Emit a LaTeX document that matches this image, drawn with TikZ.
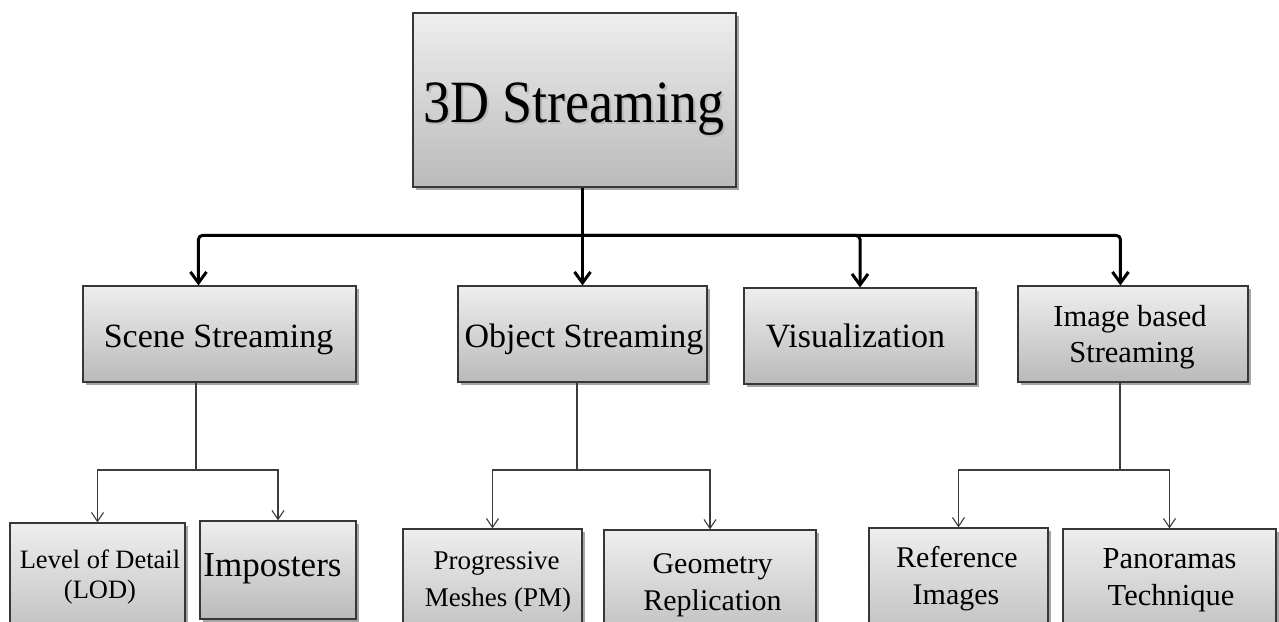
\documentclass[tikz,border=0pt]{standalone}
\usepackage{fontspec}
\setmainfont{Liberation Serif}
\usetikzlibrary{arrows.meta,shadows}
\definecolor{boxtop}{RGB}{238,238,238}
\definecolor{boxbot}{RGB}{186,186,186}
\definecolor{boxedge}{RGB}{55,55,55}
\definecolor{thinline}{RGB}{60,60,60}
\newcommand{\fs}[1]{\fontsize{#1}{#1}\selectfont}
% text with a soft grey shadow set behind it, down and to the right
\newcommand{\shadowed}[1]{\rlap{\hspace{2.5pt}\raisebox{-2.5pt}{\color{black!28}#1}}#1}

\begin{document}
\begin{tikzpicture}[x=1pt,y=-1pt,
  box/.style={draw=boxedge, line width=1.1pt, top color=boxtop, bottom color=boxbot,
    inner sep=0pt, drop shadow={shadow xshift=2.5pt, shadow yshift=-2.5pt, opacity=0.35, fill=black}},
  lbl/.style={anchor=base, inner sep=0pt, text=black},
  bigarrow/.style={draw=black, line width=3pt, line join=miter,
    -{Straight Barb[length=11pt,width=16pt]}},
  smallline/.style={draw=thinline, line width=1.1pt},
  smallarrow/.style={smallline, -{Straight Barb[length=9pt,width=12pt]}}
]
\useasboundingbox (0,0) rectangle (1279,621);
\clip (0,0) rectangle (1279,621);
\fill[white] (0,0) rectangle (1279,621);

% root
\node[box, minimum width=323pt, minimum height=174pt] (top) at (574.5,100) {};
\node[lbl] (title) at (574,122) {\fs{60}\scalebox{0.9}[1]{\shadowed{3D Streaming}}};

% second level
\node[box, minimum width=273pt, minimum height=96pt] (scene) at (219.5,334) {};
\node[box, minimum width=249pt, minimum height=96pt] (obj) at (582.5,334) {};
\node[box, minimum width=232pt, minimum height=96pt] (vis) at (860,336) {};
\node[box, minimum width=230pt, minimum height=96pt] (img) at (1133,334) {};

\node[lbl] (sceneT) at (218.5,347) {\fs{34}Scene Streaming};
\node[lbl] (objT) at (584,347) {\fs{34}Object Streaming};
\node[lbl] (visT) at (855.5,347) {\fs{34}Visualization};
\node[lbl] (imgT1) at (1130,326) {\fs{30.5}Image based};
\node[lbl] (imgT2) at (1132,362) {\fs{30.5}Streaming};

% third level
\node[box, minimum width=175pt, minimum height=127pt] (lod) at (97.5,586.5) {};
\node[box, minimum width=156pt, minimum height=98pt] (imp) at (278,570) {};
\node[box, minimum width=179pt, minimum height=121pt] (pm) at (492.5,589.5) {};
\node[box, minimum width=212pt, minimum height=120pt] (geo) at (710,590) {};
\node[box, minimum width=179pt, minimum height=122pt] (ref) at (958.5,589) {};
\node[box, minimum width=213pt, minimum height=121pt] (pan) at (1169.5,589.5) {};

\node[lbl] (lodT1) at (100,568) {\fs{26.5}Level of Detail};
\node[lbl] (lodT2) at (100,598) {\fs{26.5}(LOD)};
\node[lbl] (impT) at (272.5,576) {\fs{35}Imposters};
\node[lbl] (pmT1) at (496.5,569) {\fs{27}Progressive};
\node[lbl] (pmT2) at (498,606) {\fs{27}Meshes (PM)};
\node[lbl] (geoT1) at (712.5,573) {\fs{30}Geometry};
\node[lbl] (geoT2) at (712.5,610) {\fs{30}Replication};
\node[lbl] (refT1) at (957,567) {\fs{30}Reference};
\node[lbl] (refT2) at (956,604) {\fs{30}Images};
\node[lbl] (panT1) at (1169.5,568) {\fs{30.5}Panoramas};
\node[lbl] (panT2) at (1171,605) {\fs{30.5}Technique};

% root to second level
\path (obj.north) ++(0,-50) coordinate (bus);
\draw[bigarrow] (obj.north |- top.south) -- (obj.north);
\draw[bigarrow, rounded corners=4pt] (bus) -| ([xshift=116pt]scene.north west);
\draw[bigarrow, rounded corners=4pt] (bus) -| (vis.north);
\draw[bigarrow, rounded corners=4pt] (bus) -| ([xshift=103pt]img.north west);

% second level to third level
\coordinate (sceneBus) at (196,470);
\coordinate (objBus) at (577,470);
\coordinate (imgBus) at (1120,470);
\draw[smallline] (sceneBus |- scene.south) -- (sceneBus);
\draw[smallarrow] (sceneBus) -| (lod.north);
\draw[smallarrow] (sceneBus) -| (imp.north);
\draw[smallline] (objBus |- obj.south) -- (objBus);
\draw[smallarrow] (objBus) -| (pm.north);
\draw[smallarrow] (objBus) -| (geo.north);
\draw[smallline] (imgBus |- img.south) -- (imgBus);
\draw[smallarrow] (imgBus) -| (ref.north);
\draw[smallarrow] (imgBus) -| (pan.north);
\end{tikzpicture}
\end{document}
